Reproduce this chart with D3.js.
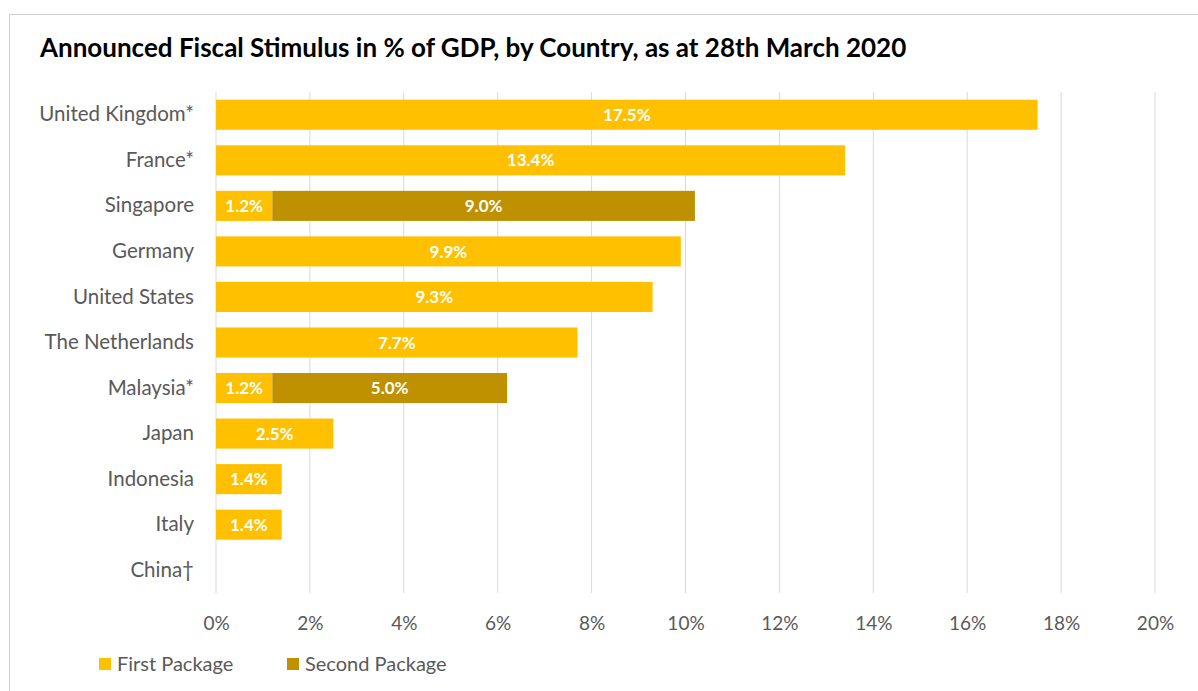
<!DOCTYPE html>
<html>
<head>
<meta charset="utf-8">
<script src="https://cdn.jsdelivr.net/npm/d3@7"></script>
<style>
  body { margin: 0; background: #fff; }
  svg { display: block; font-family: Lato, "Open Sans", sans-serif; }
</style>
</head>
<body>
<svg id="chart" width="1198" height="691"></svg>
<script>
  const countries = ['United Kingdom*', 'France*', 'Singapore', 'Germany', 'United States',
    'The Netherlands', 'Malaysia*', 'Japan', 'Indonesia', 'Italy', 'China\u2020'];
  const firstPackage = [17.5, 13.4, 1.2, 9.9, 9.3, 7.7, 1.2, 2.5, 1.4, 1.4, 0];
  const secondPackage = [0, 0, 9.0, 0, 0, 0, 5.0, 0, 0, 0, 0];
  const ticks = [0, 2, 4, 6, 8, 10, 12, 14, 16, 18, 20];
  const seriesNames = ['First Package', 'Second Package'];
  const colors = ['#ffc000', '#bf9000'];

  const svg = d3.select('#chart');

  // outer frame
  svg.append('rect')
     .attr('x', 9.5).attr('y', 14.5)
     .attr('width', 1200).attr('height', 700)
     .attr('fill', 'none')
     .attr('stroke', '#d0d0d0');

  svg.append('text')
     .attr('x', 40).attr('y', 57)
     .attr('font-size', 26).attr('font-weight', 700)
     .attr('fill', '#000')
     .text('Announced Fiscal Stimulus in % of GDP, by Country, as at 28th March 2020');

  const x = d3.scaleLinear().domain([0, 20]).range([216, 1155]);
  const y = d3.scaleBand().domain(countries).range([92, 593]).paddingInner(0.34).paddingOuter(0.17);

  // gridlines
  svg.append('g').selectAll('line')
     .data(ticks)
     .enter().append('line')
     .attr('x1', d => x(d)).attr('x2', d => x(d))
     .attr('y1', 92).attr('y2', 593)
     .attr('stroke', '#d9d9d9')
     .attr('stroke-width', 1);

  const xAxis = svg.append('g')
     .attr('transform', 'translate(0,593)')
     .call(d3.axisBottom(x).tickValues(ticks).tickFormat(d => d + '%').tickSize(0).tickPadding(24));
  xAxis.select('.domain').remove();
  xAxis.selectAll('text')
       .attr('font-family', 'Lato, sans-serif')
       .attr('font-size', 19)
       .attr('fill', '#595959');

  const yAxis = svg.append('g')
     .attr('transform', 'translate(194,0)')
     .call(d3.axisLeft(y).tickSize(0).tickPadding(0));
  yAxis.select('.domain').remove();
  yAxis.selectAll('text')
       .attr('font-family', 'Lato, sans-serif')
       .attr('font-size', 20.5)
       .attr('fill', '#595959');

  const rows = countries.map((c, i) => ({ country: c, first: firstPackage[i], second: secondPackage[i] }));
  const stacked = d3.stack().keys(['first', 'second'])(rows);

  const layers = svg.append('g').selectAll('g')
     .data(stacked)
     .enter().append('g')
     .attr('fill', (d, i) => colors[i]);

  layers.selectAll('rect')
     .data(d => d.filter(s => s[1] - s[0] > 0))
     .enter().append('rect')
     .attr('x', d => x(d[0]))
     .attr('y', d => y(d.data.country))
     .attr('width', d => x(d[1]) - x(d[0]))
     .attr('height', y.bandwidth());

  layers.selectAll('text')
     .data(d => d.filter(s => s[1] - s[0] > 0))
     .enter().append('text')
     .attr('x', d => (x(d[0]) + x(d[1])) / 2)
     .attr('y', d => y(d.data.country) + y.bandwidth() / 2)
     .attr('dy', '0.36em')
     .attr('text-anchor', 'middle')
     .attr('font-size', 17).attr('font-weight', 700)
     .attr('fill', '#fff')
     .text(d => (d[1] - d[0]).toFixed(1) + '%');

  // legend
  const legend = svg.append('g').selectAll('g')
     .data(seriesNames)
     .enter().append('g')
     .attr('transform', (d, i) => 'translate(' + [99, 287][i] + ',658)');
  legend.append('rect')
     .attr('width', 12).attr('height', 12)
     .attr('fill', (d, i) => colors[i]);
  legend.append('text')
     .attr('x', 18).attr('y', 6).attr('dy', '0.36em')
     .attr('font-size', 20).attr('fill', '#595959')
     .text(d => d);
</script>
</body>
</html>
